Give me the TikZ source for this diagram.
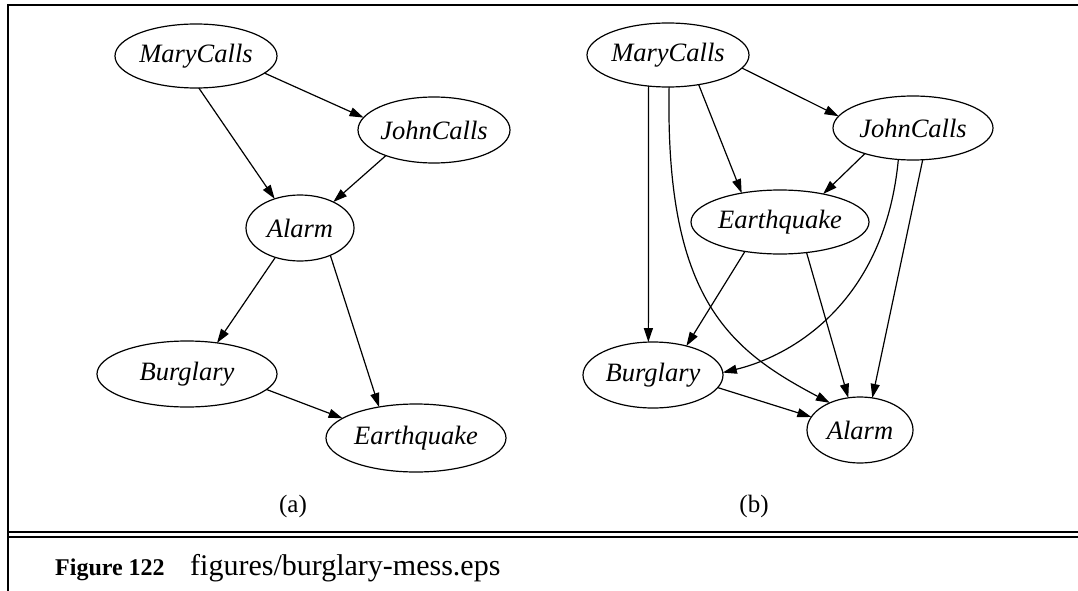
\documentclass[tikz,border=0pt]{standalone}
\usepackage{fontspec}
\setmainfont{Liberation Serif}
\usetikzlibrary{shapes.geometric,arrows.meta}
\begin{document}
\begin{tikzpicture}[x=1pt,y=-1pt,
  bn/.style={ellipse,draw,line width=1.2pt,inner sep=0pt,outer sep=0pt,
    font=\itshape\fontsize{26.5}{28}\selectfont},
  edge/.style={line width=1.2pt,-{Triangle[length=14pt,width=9pt]}},
  frameline/.style={line width=2.2pt},
  sub/.style={font=\fontsize{25}{27}\selectfont,inner sep=0pt}]
\useasboundingbox (0,0) rectangle (1078,591);
% frame
\draw[frameline] (8,591) -- (8,5) -- (1078,5);
\draw[line width=2pt] (8,532) -- (1078,532);
\draw[line width=2pt] (8,537) -- (1078,537);
% (a)
\node[bn,minimum width=162pt,minimum height=64pt] (mca) at (196,56) {MaryCalls};
\node[bn,minimum width=144pt,minimum height=66pt] (jca) at (434,130) {JohnCalls};
\node[bn,minimum width=108pt,minimum height=66pt] (ala) at (300,228) {Alarm};
\node[bn,minimum width=180pt,minimum height=66pt] (bua) at (187,374) {Burglary};
\node[bn,minimum width=180pt,minimum height=68pt] (eqa) at (416,438) {Earthquake};
\draw[edge] (mca.346.5) -- (jca.170);
\draw[edge] (mca.275.4) -- (ala.131);
\draw[edge] (jca.208) -- (ala.38);
\draw[edge] (ala.230) -- (bua.46);
\draw[edge] (ala.318) -- (eqa.140);
\draw[edge] (bua.349.5) -- (eqa.165.4);
\node[sub] (la) at (293,506) {(a)};
% (b)
\node[bn,minimum width=162pt,minimum height=64pt] (mcb) at (668,55) {MaryCalls};
\node[bn,minimum width=160pt,minimum height=64pt] (jcb) at (913,128) {JohnCalls};
\node[bn,minimum width=178pt,minimum height=64pt] (eqb) at (780,222) {Earthquake};
\node[bn,minimum width=140pt,minimum height=66pt] (bub) at (653,375) {Burglary};
\node[bn,minimum width=106pt,minimum height=66pt] (alb) at (860,430) {Alarm};
\draw[edge] (mcb.350.4) -- (jcb.171.7);
\draw[edge] (mcb.316) -- (eqb.143.3);
\draw[edge] (mcb.238) -- (bub.98);
\draw[edge] (mcb.272) .. controls (665,300) and (730,350) .. (alb.138.8);
\draw[edge] (jcb.208.4) -- (eqb.33.4);
\draw[edge] (jcb.245) .. controls (885,300) and (795,355) .. (bub.2);
\draw[edge] (jcb.287) -- (alb.69.4);
\draw[edge] (eqb.220) -- (bub.41.7);
\draw[edge] (eqb.311) -- (alb.110.4);
\draw[edge] (bub.349.7) -- (alb.165.4);
\node[sub] (lb) at (754,506) {(b)};
% caption
\node[anchor=base west,inner sep=0pt,font=\bfseries\fontsize{24}{26}\selectfont] (fig) at (55,575) {Figure 122};
\node[anchor=base west,inner sep=0pt,font=\fontsize{30}{32}\selectfont] (cap) at (190,575) {figures/burglary-mess.eps};
\end{tikzpicture}
\end{document}
